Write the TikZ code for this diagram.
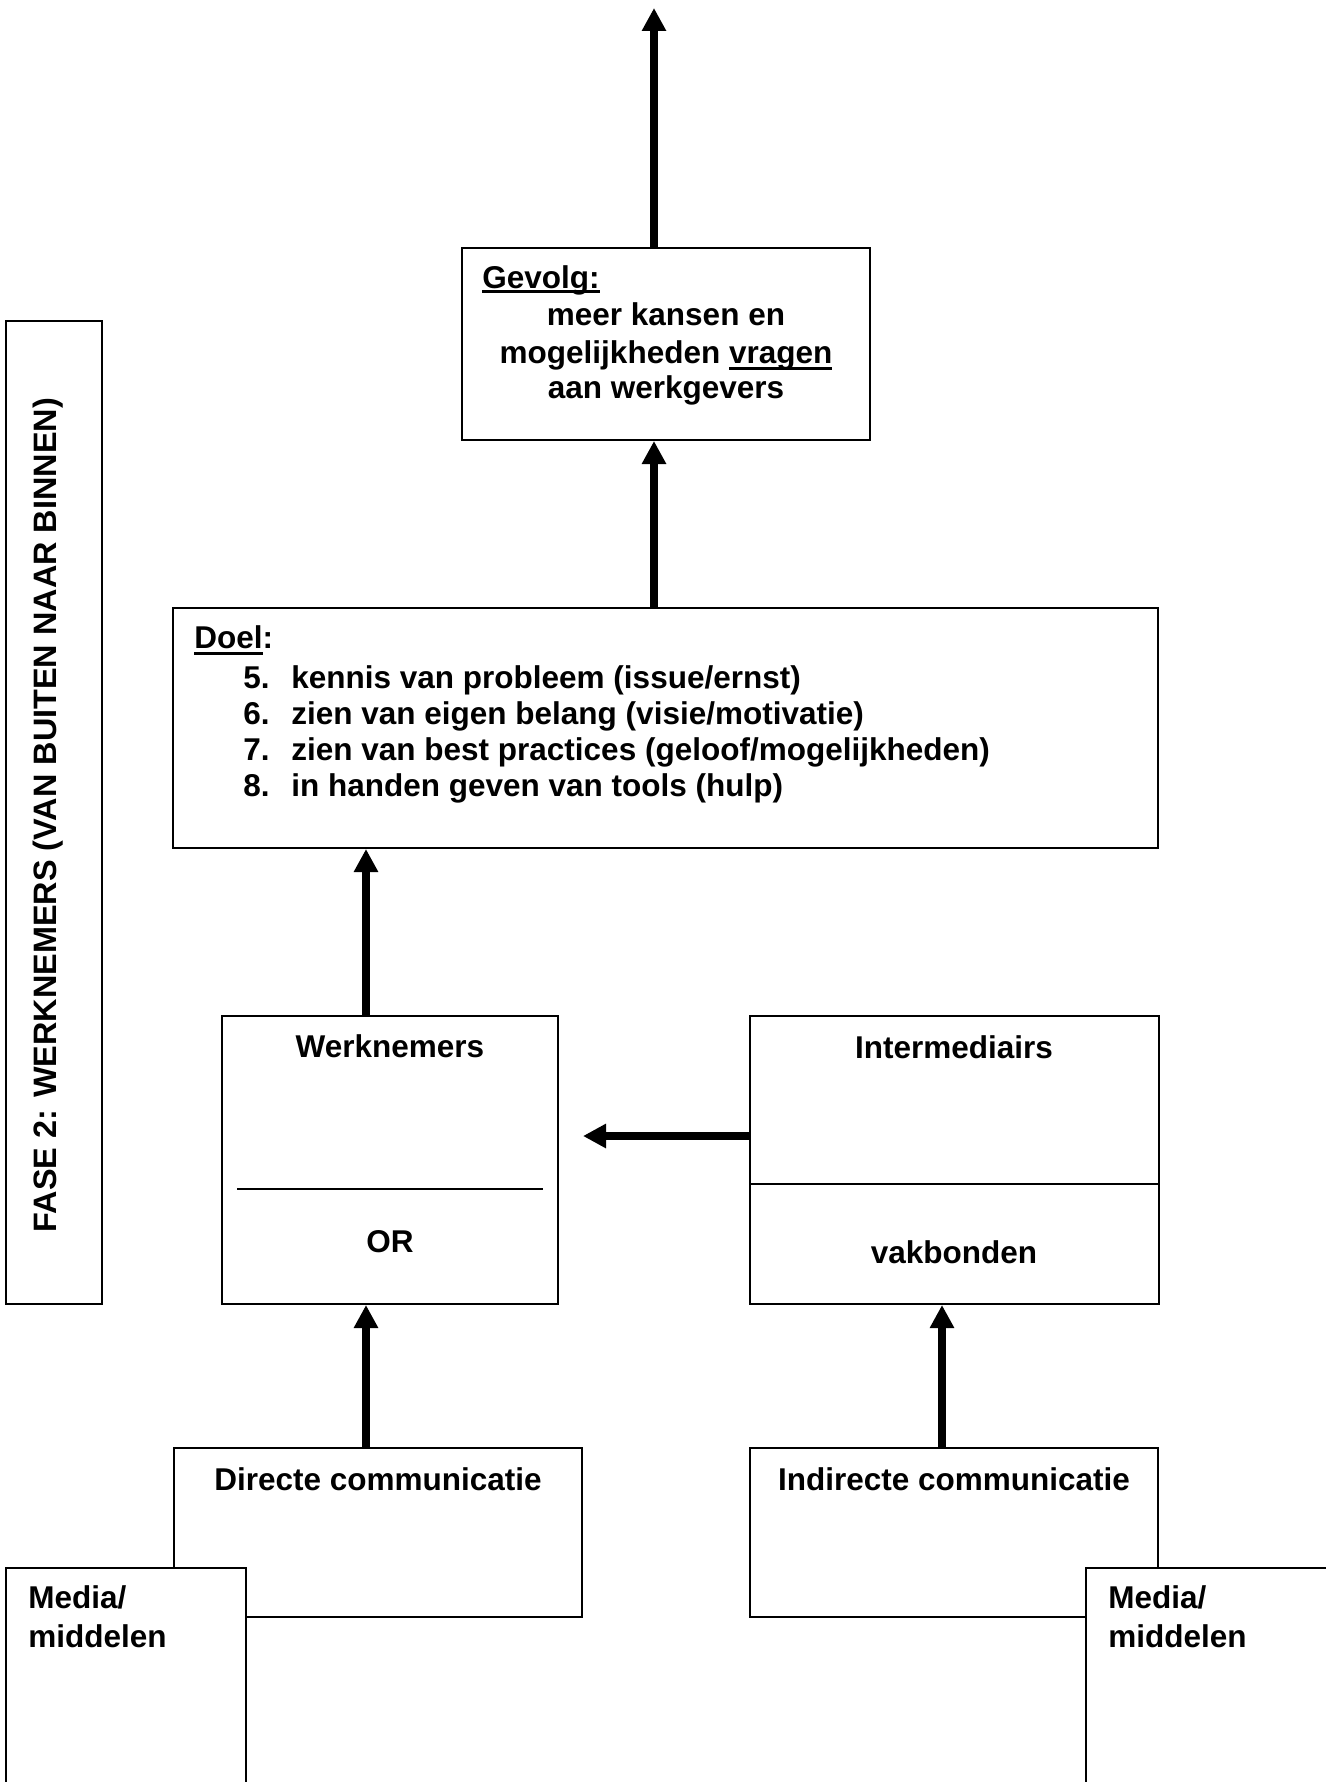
\documentclass[tikz,border=0pt]{standalone}
\usepackage{fontspec}
\setmainfont{Liberation Sans}
\usetikzlibrary{arrows.meta,calc}
\newcommand\myul[2][-3.5pt]{\setbox0\hbox{#2}\rlap{\rule[#1]{\wd0}{1.5pt}}\box0}
\begin{document}
\begin{tikzpicture}[x=0.5pt,y=-0.5pt,
  box/.style={draw, line width=1pt, rectangle, inner sep=0pt, fill=white},
  txt/.style={inner sep=0pt, font=\fontsize{15.75}{18.5}\selectfont\bfseries},
  arr/.style={line width=3.75pt, -{Triangle[length=11.5pt,width=11.5pt]}}]
\useasboundingbox (0,0) rectangle (1326,1782);
\fill[white] (0,0) rectangle (1326,1782);
\clip (0,0) rectangle (1326,1782);

% boxes
\node[box, minimum width=204pt, minimum height=96pt] (gev) at (666,344) {};
\node[box, minimum width=492.5pt, minimum height=120pt] (doel) at (665.5,728) {};
\node[box, minimum width=168pt, minimum height=144pt] (werk) at (390,1160) {};
\node[box, minimum width=204.5pt, minimum height=144pt] (inter) at (954.5,1160) {};
\node[box, minimum width=204pt, minimum height=84.5pt] (dir) at (378,1532.5) {};
\node[box, minimum width=204pt, minimum height=84.5pt] (ind) at (954,1532.5) {};
\node[box, minimum width=120pt, minimum height=116pt] (mediaL) at (126,1684) {};
\node[box, minimum width=129.5pt, minimum height=116pt] (mediaR) at (1215.5,1684) {};
\node[box, minimum width=48pt, minimum height=491.5pt] (fase) at (54,812.5) {};

% dividers
\coordinate (wdiv) at (0,1189);
\coordinate (idiv) at (0,1184);
\draw[line width=1.3pt] ($(werk.west |- wdiv)+(16,0)$) -- ($(werk.east |- wdiv)+(-16,0)$);
\draw[line width=1pt] (inter.west |- idiv) -- (inter.east |- idiv);

% arrows
\coordinate (tipTop) at (654,8);
\coordinate (hTip) at (583,1136);
\coordinate (cL) at (366,0);
\coordinate (cR) at (942,0);
\draw[arr] (gev.north -| tipTop) -- (tipTop);
\draw[arr] (doel.north -| tipTop) -- (gev.south -| tipTop);
\draw[arr] (werk.north -| cL) -- (doel.south -| cL);
\draw[arr] (dir.north -| cL) -- (werk.south -| cL);
\draw[arr] (ind.north -| cR) -- (inter.south -| cR);
\draw[arr] (inter.west |- hTip) -- (hTip);

% texts
\node[txt, anchor=base west] (gevT) at (482,288) {\myul[-2.5pt]{Gevolg:}};
\node[txt, anchor=base] (gev1) at (666,325) {meer kansen en};
\node[txt, anchor=base] (gev2) at (666,363) {mogelijkheden \myul[-3.5pt]{vragen}};
\node[txt, anchor=base] (gev3) at (666,398) {aan werkgevers};

\node[txt, anchor=base west] (doelT) at (194,648) {\myul{Doel}:};
\node[txt, anchor=base west] (n5) at (243,688) {5.};
\node[txt, anchor=base west] (n6) at (243,724) {6.};
\node[txt, anchor=base west] (n7) at (243,760) {7.};
\node[txt, anchor=base west] (n8) at (243,796) {8.};
\node[txt, anchor=base west] (i5) at (291,688) {kennis van probleem (issue/ernst)};
\node[txt, anchor=base west] (i6) at (291,724) {zien van eigen belang (visie/motivatie)};
\node[txt, anchor=base west] (i7) at (291,760) {zien van best practices (geloof/mogelijkheden)};
\node[txt, anchor=base west] (i8) at (291,796) {in handen geven van tools (hulp)};

\node[txt, anchor=base] (werkT) at (390,1057) {Werknemers};
\node[txt, anchor=base] (orT) at (390,1252) {OR};
\node[txt, anchor=base] (interT) at (954,1058) {Intermediairs};
\node[txt, anchor=base] (vakT) at (954,1263) {vakbonden};
\node[txt, anchor=base] (dirT) at (378,1490) {Directe communicatie};
\node[txt, anchor=base] (indT) at (954,1490) {Indirecte communicatie};
\node[txt, anchor=base west] (mL1) at (28,1608) {Media/};
\node[txt, anchor=base west] (mL2) at (28,1647) {middelen};
\node[txt, anchor=base west] (mR1) at (1108,1608) {Media/};
\node[txt, anchor=base west] (mR2) at (1108,1647) {middelen};
\node[txt, rotate=90, font=\fontsize{16.2}{19}\selectfont\bfseries] (faseT) at (48,815) {FASE 2: WERKNEMERS (VAN BUITEN NAAR BINNEN)};
\end{tikzpicture}
\end{document}
